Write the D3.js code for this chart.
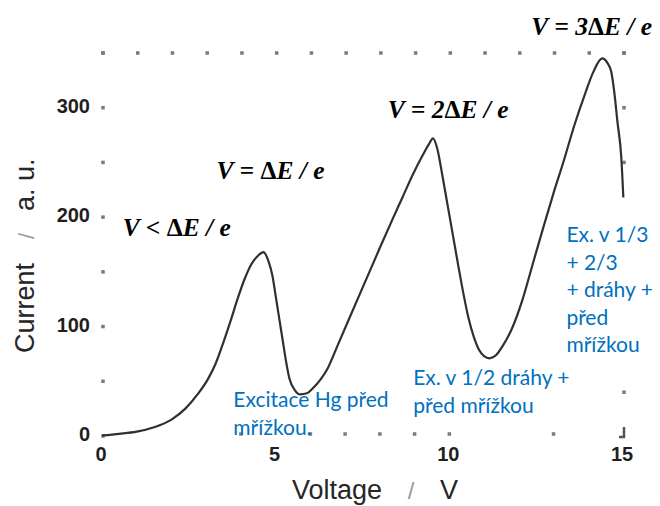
<!DOCTYPE html>
<html>
<head>
<meta charset="utf-8">
<script src="https://cdn.jsdelivr.net/npm/d3@7"></script>
<style>
  html, body { margin: 0; padding: 0; background: #fff; }
  svg { display: block; }
</style>
</head>
<body>
<svg id="chart" width="660" height="506"></svg>
<script>
// ---- data ----
const voltage = [0.0, 0.5, 1.0, 1.5, 2.0, 2.4, 2.75, 3.05, 3.27, 3.5, 3.7, 3.9, 4.1, 4.3, 4.5, 4.65,
  4.79, 4.91, 5.0, 5.1, 5.2, 5.3, 5.4, 5.55, 5.71, 5.9, 6.05, 6.3, 6.5, 6.8, 7.1, 7.4, 7.7, 8.0,
  8.35, 8.65, 8.95, 9.24, 9.4, 9.53, 9.65, 9.8, 9.95, 10.1, 10.25, 10.4, 10.55, 10.7, 10.85,
  11.0, 11.16, 11.35, 11.51, 11.8, 12.1, 12.4, 12.7, 13.0, 13.3, 13.6, 13.9, 14.15, 14.4,
  14.55, 14.66, 14.75, 14.84, 14.95, 15.01];
const current = [0.5, 2, 4, 8, 15, 25, 38, 52, 66, 86, 105, 125, 143, 157, 165, 168,
  160, 146, 128, 108, 88, 68, 52, 42, 38, 39, 43, 52, 62, 84, 106, 128, 150, 172,
  197, 218, 239, 257, 266, 272, 263, 238, 211, 184, 157, 131, 108, 91, 79,
  73, 71, 74, 81, 98, 124, 157, 190, 222, 252, 284, 312, 333, 345,
  341, 333, 314, 287, 255, 218];

const xTickLabels = [0, 5, 10, 15];
const yTickLabels = [0, 100, 200, 300];
const leftDots = [0, 50, 100, 150, 200, 250, 300, 350];
const rightDots = [40, 250, 300, 350];
const topDots = [0, 1, 2, 3, 4, 5, 6, 7, 8, 9, 10, 11, 12, 13, 14, 15];
const bottomDots = [4, 6, 7, 8, 9, 10, 13];

const xLabel = ["Voltage", "/", "V"];
const yLabel = ["Current", "/", "a. u."];

const formulaLabels = ["V < ΔE / e", "V = ΔE / e", "V = 2ΔE / e", "V = 3ΔE / e"];
const formulaAnchors = [[0.6, 183], [3.3, 235], [8.23, 291], [12.36, 366]]; // [V, a.u.] of text start/baseline

const noteLines = [
  ["Excitace Hg před", "mřížkou."],
  ["Ex. v 1/2 dráhy +", "před mřížkou"],
  ["Ex. v 1/3", "+ 2/3", "+ dráhy +", "před", "mřížkou"]
];
const noteAnchors = [[3.78, 26.5], [8.96, 46.6], [13.37, 177]]; // [V, a.u.] first baseline

// ---- scales ----
const svg = d3.select("#chart");
const x = d3.scaleLinear().domain([0, 15]).range([102, 623]);
const y = d3.scaleLinear().domain([0, 350]).range([436, 53]);

const dotColor = "#7a7a7a";
const ink = "#262626";

// frame dots
const dotSize = 3.5;
function dots(data, fx, fy) {
  svg.append("g").selectAll("rect").data(data).join("rect")
    .attr("x", d => fx(d) - dotSize / 2)
    .attr("y", d => fy(d) - dotSize / 2)
    .attr("width", dotSize).attr("height", dotSize)
    .attr("fill", dotColor);
}
dots(leftDots, () => x(0) + 1, d => y(d));
dots(rightDots, () => x(15) + 1, d => y(d));
dots(topDots, d => x(d) + 1, () => y(350));
dots(bottomDots, d => x(d), () => y(0) - 2);

// bottom-right corner mark
svg.append("path")
  .attr("d", `M${x(15) + 1},${y(0) - 9} V${y(0) + 1} H${x(15) - 4}`)
  .attr("fill", "none").attr("stroke", "#555").attr("stroke-width", 2.5);

// tick labels
svg.append("g").selectAll("text").data(yTickLabels).join("text")
  .attr("x", 90).attr("y", d => y(d) + 5)
  .attr("text-anchor", "end")
  .attr("font-family", "Liberation Sans, Arial, sans-serif")
  .attr("font-weight", "bold").attr("font-size", 20)
  .attr("fill", "#1f1f1f")
  .text(d => d);

svg.append("g").selectAll("text").data(xTickLabels).join("text")
  .attr("x", d => x(d) - 1).attr("y", 461)
  .attr("text-anchor", "middle")
  .attr("font-family", "Liberation Sans, Arial, sans-serif")
  .attr("font-weight", "bold").attr("font-size", 20)
  .attr("fill", "#1f1f1f")
  .text(d => d);

// axis titles
const titleFont = "Liberation Sans, Arial, sans-serif";
const xt = svg.append("g");
xt.append("text").attr("x", 292).attr("y", 499).attr("font-family", titleFont)
  .attr("font-size", 27).attr("fill", ink).text(xLabel[0]);
xt.append("text").attr("x", 411).attr("y", 499).attr("text-anchor", "middle").attr("font-family", titleFont)
  .attr("font-size", 24).attr("fill", "#9a9a9a").text(xLabel[1]);
xt.append("text").attr("x", 449).attr("y", 499).attr("text-anchor", "middle").attr("font-family", titleFont)
  .attr("font-size", 27).attr("fill", ink).text(xLabel[2]);

const yt = svg.append("g").attr("transform", "translate(34,0) rotate(-90)");
yt.append("text").attr("x", -353).attr("y", 0).attr("font-family", titleFont)
  .attr("font-size", 27).attr("fill", ink).text(yLabel[0]);
yt.append("text").attr("x", -236).attr("y", 0).attr("text-anchor", "middle").attr("font-family", titleFont)
  .attr("font-size", 22).attr("fill", "#9a9a9a").text(yLabel[1]);
yt.append("text").attr("x", -211).attr("y", 0).attr("font-family", titleFont)
  .attr("font-size", 27).attr("fill", ink).text(yLabel[2]);

// curve
const pts = voltage.map((v, i) => [v, current[i]]);
const line = d3.line().x(d => x(d[0])).y(d => y(d[1])).curve(d3.curveMonotoneX);
svg.append("path").datum(pts)
  .attr("d", line)
  .attr("fill", "none").attr("stroke", "#303030").attr("stroke-width", 2.2)
  .attr("stroke-linejoin", "round");

// formula labels (Δ upright, rest italic)
formulaLabels.forEach((s, i) => {
  const t = svg.append("text")
    .attr("x", x(formulaAnchors[i][0]))
    .attr("y", y(formulaAnchors[i][1]))
    .attr("font-family", "Liberation Serif, Times New Roman, serif")
    .attr("font-style", "italic").attr("font-weight", "bold")
    .attr("font-size", 25.5).attr("fill", "#000")
    .attr("xml:space", "preserve");
  s.split(/(Δ)/).forEach(part => {
    if (!part) return;
    t.append("tspan").attr("font-style", part === "Δ" ? "normal" : "italic").text(part);
  });
});

// blue notes
noteLines.forEach((lines, k) => {
  const t = svg.append("text")
    .attr("font-family", "Lato, Carlito, Calibri, sans-serif")
    .attr("font-size", 21).attr("fill", "#0070C0");
  lines.forEach((s, j) => {
    t.append("tspan").attr("x", x(noteAnchors[k][0])).attr("y", y(noteAnchors[k][1]) + j * 27.5).text(s);
  });
});
</script>
</body>
</html>
